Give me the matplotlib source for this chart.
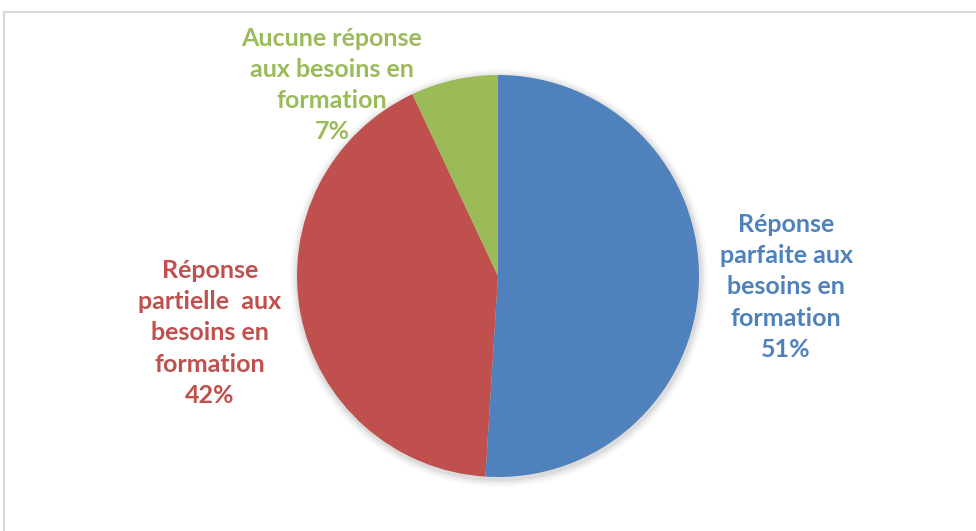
import matplotlib.pyplot as plt
from matplotlib.patches import Circle

labels = ['Réponse\nparfaite aux\nbesoins en\nformation\n51%',
          'Réponse\npartielle  aux\nbesoins en\nformation\n42%',
          'Aucune réponse\naux besoins en\nformation\n7%']
values = [51, 42, 7]
colors = ['#4F81BD', '#C0504D', '#9BBB59']
label_pos = [(786, 287), (210, 333), (332, 85)]

W, H = 976, 531
fig = plt.figure(figsize=(W / 100, H / 100), dpi=100)
ax = fig.add_axes([0, 0, 1, 1])

cx, cy, r = 498, H - 276, 201

# soft shadow like the Excel chart
for i, a in enumerate([0.05, 0.04, 0.03, 0.02]):
    ax.add_patch(Circle((cx + 1, cy - 2), r + 2 + 2 * i, color='black', alpha=a, lw=0, zorder=0))

ax.pie(values, colors=colors, startangle=90, counterclock=False,
       center=(cx, cy), radius=r, frame=True,
       wedgeprops=dict(linewidth=0, zorder=1))
ax.set_xlim(0, W)
ax.set_ylim(0, H)
ax.set_aspect('equal')
ax.axis('off')

for lab, col, (x, y) in zip(labels, colors, label_pos):
    ax.text(x, H - y, lab, color=col, ha='center', va='center', fontsize=18,
            fontweight='bold', family='Lato', linespacing=1.43)

# chart frame (only top and left edges visible)
ax.plot([4, W + 5], [H - 12, H - 12], color='#D9D9D9', lw=1.5, clip_on=False)
ax.plot([4, 4], [H - 12, -5], color='#D9D9D9', lw=1.5, clip_on=False)

fig.savefig('out.png', dpi=100)
